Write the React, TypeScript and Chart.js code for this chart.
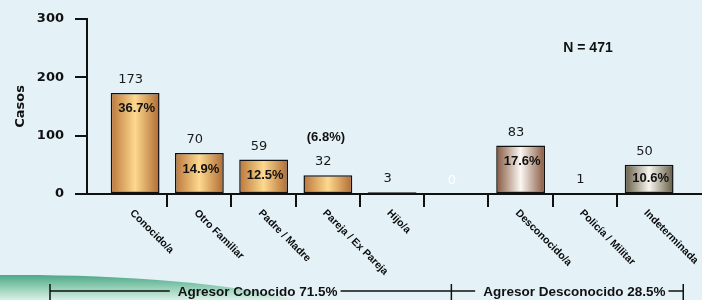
import React, { useEffect, useRef } from 'react';
import { Chart, registerables } from 'chart.js';
Chart.register(...registerables);

const categories = ['Conocido/a', 'Otro Familiar', 'Padre / Madre', 'Pareja / Ex Pareja', 'Hijo/a', '', 'Desconocido/a', 'Policía / Militar', 'Indeterminada'];
const cases = [173, 70, 59, 32, 3, 0, 83, 1, 50];
const percents = ['36.7%', '14.9%', '12.5%', '(6.8%)', '', '', '17.6%', '', '10.6%'];
const yTicks = [0, 100, 200, 300];
const groupLabels = ['Agresor Conocido 71.5%', 'Agresor Desconocido 28.5%'];
const totalLabel = 'N = 471';
const axisTitle = 'Casos';

const barStyle = ['known', 'known', 'known', 'known', 'known', 'known', 'unknown', 'unknown', 'undetermined'];
const palettes: Record<string, string[]> = {
  known: ['#bb763a', '#fdd98e', '#b06a32'],
  unknown: ['#85573d', '#fbf7f3', '#85573d'],
  undetermined: ['#645a43', '#f7f5ef', '#645a43'],
};

const decorPlugin = {
  id: 'decor',
  beforeDraw(chart: any) {
    const { ctx, width, height } = chart;
    ctx.save();
    ctx.fillStyle = '#e4f2f8';
    ctx.fillRect(0, 0, width, height);
    const g = ctx.createLinearGradient(0, 275, 0, 300);
    g.addColorStop(0, '#4ea785');
    g.addColorStop(0.5, '#93cfb6');
    g.addColorStop(1, '#d9efe5');
    ctx.fillStyle = g;
    ctx.beginPath();
    ctx.moveTo(0, 275);
    ctx.bezierCurveTo(110, 274, 230, 282, 295, 300);
    ctx.lineTo(0, 300);
    ctx.closePath();
    ctx.fill();
    ctx.restore();
  },
  afterDatasetsDraw(chart: any) {
    const { ctx } = chart;
    const xs = chart.scales.x;
    const area = chart.chartArea;
    const meta = chart.getDatasetMeta(0);
    ctx.save();
    meta.data.forEach((bar: any, i: number) => {
      const v = cases[i];
      const top = bar.y;
      const base = bar.base;
      ctx.font = '13px "DejaVu Sans"';
      ctx.textAlign = 'center';
      ctx.textBaseline = 'alphabetic';
      ctx.fillStyle = v === 0 ? '#ffffff' : '#1a1a1a';
      ctx.fillText(String(v), bar.x - 4.5, top - 10);
      const p = percents[i];
      if (p) {
        ctx.font = 'bold 13px "Liberation Sans"';
        ctx.fillStyle = '#111';
        if (base - top >= 25) {
          ctx.fillText(p, bar.x + 1.5, Math.min(top + 19.5, base - 11));
        } else {
          ctx.fillText(p, bar.x - 2, top - 34);
        }
      }
    });
    categories.forEach((c, i) => {
      if (!c) return;
      ctx.save();
      ctx.translate(xs.getPixelForValue(i) - 3.5, area.bottom + 17.5);
      ctx.rotate(Math.PI / 4);
      ctx.font = 'bold 10.5px "Liberation Sans"';
      ctx.fillStyle = '#0a0a0a';
      ctx.textAlign = 'left';
      ctx.textBaseline = 'middle';
      ctx.fillText(c, 0, 0);
      ctx.restore();
    });
    ctx.font = 'bold 14px "Liberation Sans"';
    ctx.fillStyle = '#111';
    ctx.textAlign = 'center';
    ctx.textBaseline = 'alphabetic';
    ctx.fillText(totalLabel, 588, 52);
    const left = 50;
    const mid = xs.getPixelForValue(5) - 5;
    const right = xs.getPixelForValue(8.5) + 2;
    const ly = 291;
    ctx.strokeStyle = '#111';
    ctx.lineWidth = 1.5;
    ctx.font = 'bold 13.5px "Liberation Sans"';
    const spans = [[left, mid], [mid, right]];
    spans.forEach(([a, b], k) => {
      const c = (a + b) / 2 + 7;
      const w = ctx.measureText(groupLabels[k]).width;
      ctx.fillText(groupLabels[k], c, 296);
      ctx.beginPath();
      ctx.moveTo(a, ly);
      ctx.lineTo(c - w / 2 - 8, ly);
      ctx.moveTo(c + w / 2 + 3, ly);
      ctx.lineTo(b, ly);
      ctx.stroke();
    });
    ctx.beginPath();
    [left, mid, right].forEach((x) => {
      ctx.moveTo(x, 284);
      ctx.lineTo(x, 300);
    });
    ctx.stroke();
    ctx.restore();
  },
};

export default function App() {
  const ref = useRef<HTMLCanvasElement>(null);
  useEffect(() => {
    document.body.style.margin = '0';
    if (!ref.current) return;
    const chart = new Chart(ref.current, {
      type: 'bar',
      data: {
        datasets: [
          {
            data: cases.map((v, i) => ({ x: i, y: v })),
            backgroundColor: (c: any) => {
              const ch = c.chart;
              const xs = ch.scales && ch.scales.x;
              if (!xs || c.type !== 'data') return '#d9a45e';
              const i = c.dataIndex;
              const cx = xs.getPixelForValue(i);
              const half = 0.38 * (xs.getPixelForValue(1) - xs.getPixelForValue(0));
              if (!isFinite(cx) || !isFinite(half)) return '#d9a45e';
              const g = ch.ctx.createLinearGradient(cx - half, 0, cx + half, 0);
              const p = palettes[barStyle[i]];
              g.addColorStop(0, p[0]);
              g.addColorStop(0.5, p[1]);
              g.addColorStop(1, p[2]);
              return g;
            },
            borderColor: '#111',
            borderWidth: 1.5,
            borderSkipped: false,
            categoryPercentage: 0.8,
            barPercentage: 0.95,
          } as any,
        ],
      },
      options: {
        responsive: false,
        animation: false,
        events: [],
        layout: { padding: { top: 17, left: 0, right: 0, bottom: 0 } },
        plugins: { legend: { display: false }, tooltip: { enabled: false } },
        scales: {
          x: {
            type: 'linear',
            min: -0.749,
            max: 8.823,
            offset: false,
            afterBuildTicks: (s: any) => {
              s.ticks = categories.slice(0, -1).map((_, i) => ({ value: i + 0.5 }));
            },
            afterFit: (s: any) => {
              s.height = 106;
            },
            ticks: { display: false },
            grid: { offset: false, drawOnChartArea: false, drawTicks: true, tickLength: 13, color: '#111', lineWidth: 2 },
            border: { display: true, color: '#111', width: 2 },
          },
          y: {
            min: 0,
            max: 300,
            afterBuildTicks: (s: any) => {
              s.ticks = yTicks.map((v) => ({ value: v }));
            },
            afterFit: (s: any) => {
              s.width = 87;
            },
            ticks: { color: '#111', padding: 11, font: { family: 'DejaVu Sans', weight: 'bold', size: 13 } },
            grid: { drawOnChartArea: false, drawTicks: true, tickLength: 12, color: '#111', lineWidth: 2 },
            border: { display: true, color: '#111', width: 2 },
            title: { display: true, text: axisTitle, color: '#111', padding: { top: 13, bottom: 0 }, font: { family: 'DejaVu Sans', weight: 'bold', size: 13 } },
          },
        },
      },
      plugins: [decorPlugin],
    } as any);
    return () => chart.destroy();
  }, []);
  return (
    <div style={{ width: 702, height: 300 }}>
      <canvas ref={ref} width={702} height={300} />
    </div>
  );
}
